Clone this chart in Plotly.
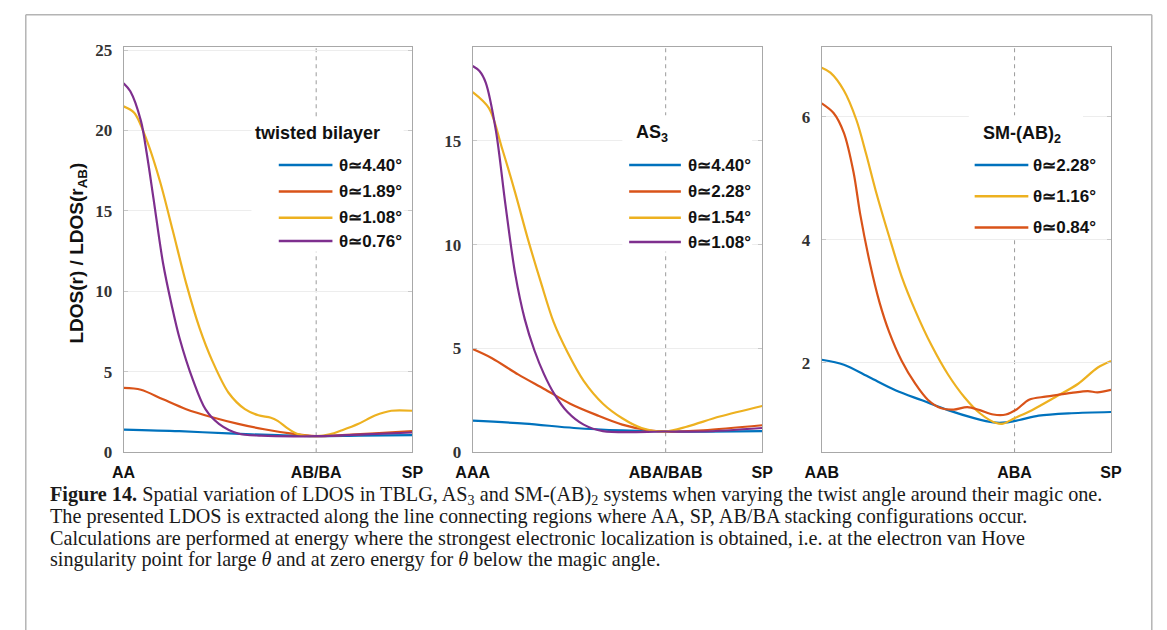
import plotly.graph_objects as go

W, H = 1167, 630
OFF = 8  # the page body adds an 8 px margin around the figure

# ---------------- data ----------------
# position along the path: 0 = first stacking, 2 = AB-type stacking, 3 = SP
# Panel 1: twisted bilayer
tb_ticks = ["AA", "AB/BA", "SP"]
tb_labels = ["θ≃4.40°", "θ≃1.89°", "θ≃1.08°", "θ≃0.76°"]
tb_x_440 = [0.0, 0.58, 1.09, 1.60, 2.0, 2.44, 3.0]
tb_y_440 = [1.41, 1.31, 1.17, 1.06, 1.0, 1.03, 1.06]
tb_x_189 = [0.0, 0.18, 0.41, 0.65, 0.92, 1.19, 1.46, 1.73, 2.0, 2.27, 2.61, 3.0]
tb_y_189 = [4.0, 3.89, 3.29, 2.68, 2.18, 1.77, 1.43, 1.17, 1.0, 1.07, 1.17, 1.31]
tb_x_108 = [0.0, 0.11, 0.24, 0.38, 0.51, 0.65, 0.79, 0.92, 1.09, 1.26, 1.40, 1.53,
            1.60, 1.70, 1.80, 1.90, 2.0, 2.14, 2.27, 2.44, 2.61, 2.78, 3.0]
tb_y_108 = [21.5, 21.1, 19.4, 16.8, 13.8, 10.5, 7.7, 5.7, 3.7, 2.68, 2.3, 2.15,
            1.95, 1.5, 1.15, 1.02, 1.0, 1.11, 1.37, 1.77, 2.28, 2.58, 2.58]
tb_x_076 = [0.0, 0.07, 0.18, 0.24, 0.31, 0.41, 0.50, 0.58, 0.72, 0.85, 0.99, 1.19,
            1.43, 2.0, 2.44, 3.0]
tb_y_076 = [22.94, 22.44, 20.6, 18.6, 15.8, 11.75, 9.13, 7.12, 4.5, 2.68, 1.77, 1.17,
            1.03, 1.0, 1.1, 1.23]

# Panel 2: AS3
as_ticks = ["AAA", "ABA/BAB", "SP"]
as_labels = ["θ≃4.40°", "θ≃2.28°", "θ≃1.54°", "θ≃1.08°"]
as_x_440 = [0.0, 0.54, 1.05, 1.55, 2.0, 3.0]
as_y_440 = [1.52, 1.38, 1.17, 1.05, 1.0, 1.02]
as_x_228 = [0.0, 0.20, 0.47, 0.74, 1.01, 1.28, 1.55, 1.82, 2.0, 2.39, 3.0]
as_y_228 = [4.97, 4.53, 3.75, 3.05, 2.34, 1.8, 1.33, 1.06, 1.0, 1.06, 1.3]
as_x_154 = [0.0, 0.17, 0.30, 0.44, 0.57, 0.71, 0.84, 0.98, 1.15, 1.35, 1.55, 1.75,
            2.0, 2.23, 2.56, 3.0]
as_y_154 = [17.34, 16.56, 14.7, 12.5, 10.3, 8.13, 6.25, 4.84, 3.44, 2.34, 1.64, 1.17,
            1.0, 1.25, 1.72, 2.23]
as_x_108 = [0.0, 0.07, 0.135, 0.24, 0.34, 0.44, 0.54, 0.64, 0.74, 0.84, 0.98, 1.15,
            1.35, 2.0, 2.39, 3.0]
as_y_108 = [18.6, 18.36, 17.8, 15.5, 11.9, 8.6, 6.4, 4.9, 3.75, 2.85, 1.95, 1.33,
            1.02, 1.0, 1.0, 1.17]

# Panel 3: SM-(AB)2
sm_ticks = ["AAB", "ABA", "SP"]
sm_labels = ["θ≃2.28°", "θ≃1.16°", "θ≃0.84°"]
sm_x_228 = [0.0, 0.23, 0.50, 0.77, 1.04, 1.31, 1.58, 1.78, 1.91, 2.05, 2.25, 2.59, 3.0]
sm_y_228 = [2.05, 1.97, 1.76, 1.55, 1.39, 1.23, 1.10, 1.03, 1.03, 1.07, 1.14, 1.18, 1.20]
sm_x_116 = [0.0, 0.09, 0.23, 0.36, 0.46, 0.56, 0.70, 0.83, 0.97, 1.14, 1.31, 1.48,
            1.64, 1.81, 1.88, 2.0, 2.18, 2.42, 2.66, 2.86, 3.0]
sm_y_116 = [6.80, 6.72, 6.43, 5.95, 5.40, 4.80, 4.05, 3.40, 2.85, 2.28, 1.81, 1.44,
            1.18, 1.02, 1.01, 1.10, 1.23, 1.44, 1.66, 1.92, 2.03]
sm_x_084 = [0.0, 0.125, 0.23, 0.33, 0.40, 0.50, 0.60, 0.70, 0.83, 0.97, 1.10, 1.24,
            1.37, 1.51, 1.64, 1.78, 1.91, 2.02, 2.15, 2.32, 2.45, 2.59, 2.76, 2.86, 3.0]
sm_y_084 = [6.22, 6.06, 5.74, 5.10, 4.41, 3.62, 2.98, 2.50, 2.03, 1.66, 1.40, 1.26,
            1.24, 1.28, 1.23, 1.16, 1.16, 1.24, 1.40, 1.45, 1.48, 1.51, 1.54, 1.52, 1.56]

BLUE, ORANGE, YELLOW, PURPLE = "#0072BD", "#D95319", "#EDB120", "#7E2F8E"

panels = [
    dict(xa="x", ya="y", ticks=tb_ticks, labels=tb_labels,
         series=[(tb_x_440, tb_y_440, BLUE), (tb_x_189, tb_y_189, ORANGE),
                 (tb_x_108, tb_y_108, YELLOW), (tb_x_076, tb_y_076, PURPLE)],
         xdom=(109, 405), yrange=[0, 25.2], yticks=[0, 5, 10, 15, 20, 25],
         title="twisted bilayer", tpos=(308, 130, "center"),
         line=(268, 323), text_x=328, rows=[163, 190, 217, 241],
         box=(240, 114, 396, 252)),
    dict(xa="x2", ya="y2", ticks=as_ticks, labels=as_labels,
         series=[(as_x_440, as_y_440, BLUE), (as_x_228, as_y_228, ORANGE),
                 (as_x_154, as_y_154, YELLOW), (as_x_108, as_y_108, PURPLE)],
         xdom=(466.7, 763.3), yrange=[0, 19.52], yticks=[0, 5, 10, 15],
         title="AS<sub>3</sub>", tpos=(632, 131, "left"),
         line=(627, 680), text_x=685, rows=[163, 190, 217, 242],
         box=(620, 112, 753, 252)),
    dict(xa="x3", ya="y3", ticks=sm_ticks, labels=sm_labels,
         series=[(sm_x_228, sm_y_228, BLUE), (sm_x_116, sm_y_116, YELLOW),
                 (sm_x_084, sm_y_084, ORANGE)],
         xdom=(824.3, 1120.7), yrange=[0.545, 7.14], yticks=[2, 4, 6],
         title="SM-(AB)<sub>2</sub>", tpos=(987, 132, "left"),
         line=(981, 1036), text_x=1039, rows=[163, 195, 227],
         box=(975, 112, 1092, 238)),
]


def px(x):
    return (x - OFF) / W


def py(y):
    return 1 - (y - OFF) / H


fig = go.Figure()
shapes = []
annotations = []
layout_axes = {}

for i, p in enumerate(panels):
    for (xs, ys, col), lab in zip(p["series"], p["labels"]):
        fig.add_trace(go.Scatter(x=xs, y=ys, mode="lines", name=lab,
                                 xaxis=p["xa"], yaxis=p["ya"], showlegend=False,
                                 line=dict(color=col, width=2.2, shape="spline",
                                           smoothing=0.9)))
    suffix = "" if i == 0 else str(i + 1)
    layout_axes["xaxis" + suffix] = dict(
        domain=[px(p["xdom"][0]), px(p["xdom"][1])], range=[0, 3],
        tickvals=[0, 2, 3], ticktext=p["ticks"], showgrid=False, zeroline=False,
        showline=True, mirror=True, linecolor="#a8a8a8", linewidth=1, ticks="",
        tickfont=dict(family="Liberation Sans", size=16, color="#111", weight="bold"),
        ticklabelstandoff=6, anchor="y" + suffix, fixedrange=True)
    layout_axes["yaxis" + suffix] = dict(
        domain=[py(457.7), py(41.7)], range=p["yrange"], tickvals=p["yticks"],
        showgrid=True, gridcolor="#ededed", zeroline=False, showline=True,
        mirror="ticks", linecolor="#a8a8a8", linewidth=1, ticks="inside",
        ticklen=4, tickcolor="#c8c8c8",
        tickfont=dict(family="Liberation Serif", size=17, color="#333", weight="bold"),
        ticklabelstandoff=7, anchor="x" + suffix, fixedrange=True)
    # dashed vertical line at the AB-type stacking position
    shapes.append(dict(type="line", xref=p["xa"], yref="paper",
                       x0=2, x1=2, y0=py(457.7), y1=py(41.7), layer="below",
                       line=dict(color="#9a9a9a", width=1, dash="4px,4px")))
    # legend background
    bx0, by0, bx1, by1 = p["box"]
    shapes.append(dict(type="rect", xref="paper", yref="paper",
                       x0=px(bx0), x1=px(bx1), y0=py(by1), y1=py(by0),
                       fillcolor="white", line=dict(width=0), layer="above"))
    # legend title
    tx, ty, tanchor = p["tpos"]
    annotations.append(dict(text=p["title"], xref="paper", yref="paper",
                            x=px(tx), y=py(ty), xanchor=tanchor, yanchor="middle",
                            showarrow=False,
                            font=dict(family="Liberation Sans", size=18, color="#111",
                                      weight="bold")))
    # legend entries
    for (xs, ys, col), lab, ry in zip(p["series"], p["labels"], p["rows"]):
        shapes.append(dict(type="line", xref="paper", yref="paper",
                           x0=px(p["line"][0]), x1=px(p["line"][1]),
                           y0=py(ry), y1=py(ry), layer="above",
                           line=dict(color=col, width=2.5)))
        annotations.append(dict(text=lab, xref="paper", yref="paper",
                                x=px(p["text_x"]), y=py(ry), xanchor="left",
                                yanchor="middle", showarrow=False,
                                font=dict(family="Liberation Sans", size=17,
                                          color="#111", weight="bold")))

# y axis title
annotations.append(dict(text="LDOS(r) / LDOS(r<sub>AB</sub>)", xref="paper", yref="paper",
                        x=px(62), y=py(253), textangle=-90, showarrow=False,
                        xanchor="center", yanchor="middle",
                        font=dict(family="Liberation Sans", size=19, color="#111",
                                  weight="bold")))

# caption
caption = [
    "<b>Figure 14.</b> Spatial variation of LDOS in TBLG, AS<sub>3</sub> and SM-(AB)<sub>2</sub> "
    "systems when varying the twist angle around their magic one.",
    "The presented LDOS is extracted along the line connecting regions where AA, SP, AB/BA "
    "stacking configurations occur.",
    "Calculations are performed at energy where the strongest electronic localization is "
    "obtained, i.e. at the electron van Hove",
    "singularity point for large <i>θ</i> and at zero energy for <i>θ</i> below the magic angle.",
]
for line, cy in zip(caption, [502, 524, 546, 568]):
    annotations.append(dict(text=line, xref="paper", yref="paper", x=px(32), y=py(cy),
                            xanchor="left", yanchor="middle", showarrow=False,
                            font=dict(family="Liberation Serif", size=20.2, color="#1a1a1a")))

# outer frame (left/top edges as close to the page edge as the figure allows)
for (x0, y0, x1, y1) in [(8.8, 8.8, 8.8, 700), (8.8, 8.8, 1162.5, 8.8),
                         (1162.5, 8.8, 1162.5, 700)]:
    shapes.append(dict(type="line", xref="paper", yref="paper",
                       x0=px(x0), x1=px(x1), y0=py(y0), y1=py(y1), layer="above",
                       line=dict(color="#b4b4b4", width=1.5)))

fig.update_layout(width=W, height=H, margin=dict(l=0, r=0, t=0, b=0),
                  paper_bgcolor="white", plot_bgcolor="white",
                  shapes=shapes, annotations=annotations, **layout_axes)

fig.write_html("out.html", config={"displayModeBar": False})
